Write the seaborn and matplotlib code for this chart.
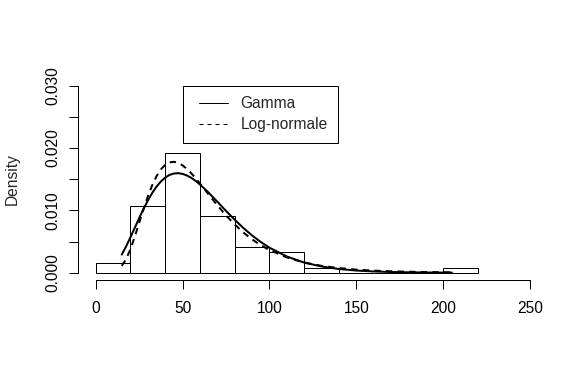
import matplotlib
matplotlib.use("Agg")
import matplotlib.pyplot as plt
from matplotlib.lines import Line2D
from matplotlib.legend_handler import HandlerLine2D
import seaborn as sns
import pandas as pd

# ---- data ----
bin_edges = [0, 20, 40, 60, 80, 100, 120, 140, 160, 180, 200, 220]
bin_left = [0, 20, 40, 60, 80, 100, 120, 140, 160, 180, 200]
bin_density = [0.0016, 0.01075, 0.01916, 0.00914, 0.00407, 0.00327,
               0.0007, 0.0, 0.0, 0.0, 0.0007]

curve_x = [15, 17.5, 20, 22.5, 25, 27.5, 30, 32.5, 35, 37.5, 40, 42.5, 45,
           47.5, 50, 52.5, 55, 57.5, 60, 65, 70, 75, 80, 85, 90, 95, 100,
           110, 120, 130, 140, 150, 160, 170, 180, 190, 205]
gamma_y = [0.0029, 0.00421, 0.00567, 0.0072, 0.00873, 0.01021, 0.01156,
           0.01278, 0.0138, 0.01463, 0.01525, 0.01569, 0.01591, 0.01597,
           0.01585, 0.0156, 0.01522, 0.01474, 0.01416, 0.01285, 0.0114,
           0.00992, 0.0085, 0.00718, 0.00598, 0.00493, 0.00402, 0.0026,
           0.00163, 0.001, 0.0006, 0.00035, 0.0002, 0.000116, 0.000065,
           0.000036, 0.000012]
lognorm_y = [0.0011, 0.00216, 0.00378, 0.00577, 0.00796, 0.01015, 0.01221,
             0.01401, 0.01547, 0.01657, 0.01731, 0.0177, 0.01779, 0.01761,
             0.01722, 0.01665, 0.01596, 0.01517, 0.01433, 0.01257, 0.01082,
             0.0092, 0.00774, 0.00645, 0.00535, 0.00442, 0.00364, 0.00245,
             0.00164, 0.0011, 0.00074, 0.0005, 0.00034, 0.00023, 0.000157,
             0.000108, 0.000063]

x_ticks = [0, 50, 100, 150, 200, 250]
y_ticks = [0.000, 0.010, 0.020, 0.030]
y_ticklabels = ["0.000", "0.010", "0.020", "0.030"]
y_minor = [0.005, 0.015, 0.025]
legend_labels = ["Gamma", "Log-normale"]
y_label = "Density"

# ---- styling ----
sns.set_style("white")
plt.rcParams["font.family"] = ["Liberation Sans", "DejaVu Sans"]
FS = 11.2
PX = 0.72  # one pixel in points at 100 dpi

fig = plt.figure(figsize=(5.88, 3.79), dpi=100)
ax = fig.add_axes([78.3 / 588, 1 - 280.2 / 379, (547.4 - 78.3) / 588, (280.2 - 78.2) / 379])

hist_df = pd.DataFrame({"x": bin_left, "w": bin_density})
sns.histplot(data=hist_df, x="x", weights="w", bins=bin_edges, stat="count",
             color="white", edgecolor="black", linewidth=PX, alpha=1,
             ax=ax)

curve_df = pd.DataFrame({"x": curve_x, "g": gamma_y, "l": lognorm_y})
sns.lineplot(data=curve_df, x="x", y="g", color="black", linewidth=2 * PX,
             sort=False, estimator=None, ax=ax)
sns.lineplot(data=curve_df, x="x", y="l", color="black", linewidth=2 * PX,
             linestyle=(0, (3.2, 2.6)), sort=False, estimator=None, ax=ax)

ax.set_xlim(-10, 260)
ax.set_ylim(-0.0012, 0.0312)

for s in ["top", "right"]:
    ax.spines[s].set_visible(False)
ax.spines["left"].set_bounds(0, 0.03)
ax.spines["bottom"].set_bounds(0, 250)
for s in ["left", "bottom"]:
    ax.spines[s].set_linewidth(PX)
    ax.spines[s].set_color("black")

ax.set_xticks(x_ticks)
ax.set_xticklabels([str(t) for t in x_ticks])
ax.set_yticks(y_ticks + y_minor)
ax.set_yticklabels(y_ticklabels + [""] * len(y_minor))
ax.tick_params(axis="both", direction="out", length=6.6, width=PX,
               colors="black", labelsize=FS, bottom=True, left=True)
ax.tick_params(axis="x", pad=8.5)
ax.tick_params(axis="y", pad=6.0)
for lab in ax.get_yticklabels():
    lab.set_rotation(90)
    lab.set_va("center")
    lab.set_ha("right")

ax.set_xlabel("")
ax.set_ylabel(y_label, fontsize=FS)
ax.yaxis.set_label_coords(-0.1243, 0.5)
ax.yaxis.label.set_va("bottom")

handles = [Line2D([], [], color="black", linewidth=PX),
           Line2D([], [], color="black", linewidth=PX, linestyle=(0, (4, 4)))]
hm = {h: HandlerLine2D(numpoints=2, marker_pad=0.35) for h in handles}
leg = ax.legend(handles, legend_labels, loc="upper left",
                bbox_to_anchor=(50, 0.0208, 89.5, 0.0092),
                bbox_transform=ax.transData, mode="expand",
                borderaxespad=0, fancybox=False, frameon=True,
                edgecolor="black", framealpha=1, fontsize=FS,
                handlelength=2.58, handletextpad=0.48, borderpad=0.68,
                labelspacing=0.40, handler_map=hm)
leg.get_frame().set_linewidth(PX)

fig.savefig("out.png", dpi=100)
